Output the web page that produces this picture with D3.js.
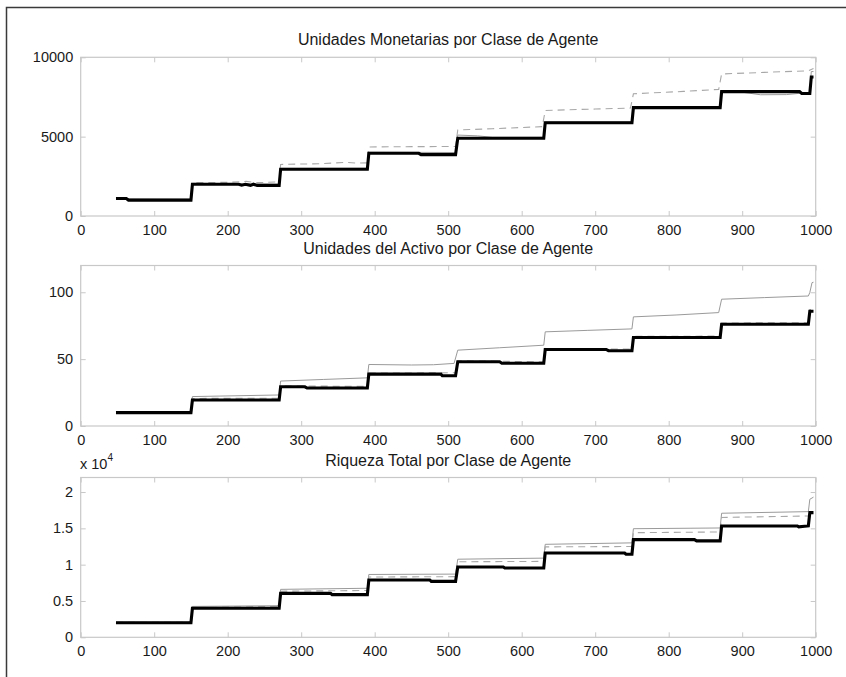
<!DOCTYPE html>
<html><head><meta charset="utf-8">
<script src="https://cdn.jsdelivr.net/npm/d3@7/dist/d3.min.js"></script>
<style>
html,body{margin:0;padding:0;background:#fff;}
svg{display:block;font-family:"Liberation Sans",Arial,Helvetica,sans-serif;}
</style></head>
<body>
<svg id="chart" width="846" height="677"></svg>
<script>
// ---------------- DATA ----------------
const titles = ["Unidades Monetarias por Clase de Agente","Unidades del Activo por Clase de Agente","Riqueza Total por Clase de Agente"];
const xTicks = [0,100,200,300,400,500,600,700,800,900,1000];
const yTicksMon = [0,5000,10000];
const yTicksAct = [0,50,100];
const yTicksWealth = [0,5000,10000,15000,20000];
const yTickLabelsWealth = ["0","0.5","1","1.5","2"];

// Panel 1: monetary units  [time, value]
const monBlack = [[48,1100],[62,1100],[65,1000],[150,1000],[152,2000],[215,2000],[219,1940],[224,2000],[231,1930],[235,2000],[240,1930],[270,1930],[272,2950],[390,2950],[392,3950],[460,3950],[463,3870],[510,3870],[513,4900],[630,4900],[632,5880],[750,5880],[752,6830],[870,6830],[872,7840],[978,7840],[981,7720],[992,7720],[994,8760],[997,8760]];
const monThin = [[48,1080],[150,1060],[152,2060],[270,2000],[272,3000],[390,3010],[392,4020],[510,4000],[513,5100],[540,5050],[560,4960],[630,4960],[632,5930],[750,5930],[752,6890],[870,6890],[872,7880],[900,7800],[925,7640],[960,7650],[985,7760],[992,7760],[994,9100],[997,9100]];
const monDashed = [[48,1100],[65,1030],[150,1030],[152,2100],[200,2120],[225,2180],[240,2100],[270,2150],[272,3250],[330,3300],[360,3380],[375,3330],[390,3350],[392,4350],[450,4370],[510,4380],[513,5420],[560,5500],[628,5630],[632,6650],[700,6740],[748,6800],[752,7700],[820,7850],[868,7980],[872,8950],[930,9050],[990,9150],[997,9300]];

// Panel 2: asset units
const actBlack = [[48,10],[150,10],[152,19.4],[270,19.4],[272,29.3],[305,29.3],[308,28.4],[390,28.4],[392,38.8],[490,38.8],[492,37.6],[510,37.6],[513,48],[570,48],[573,46.9],[630,46.9],[632,57.2],[715,57.2],[718,56.3],[750,56.3],[752,66.2],[870,66.2],[872,76.1],[990,76.1],[992,85.8],[997,85.8]];
const actThin = [[48,10.6],[150,10.8],[152,22],[270,23.2],[272,33.6],[330,34.8],[390,36],[392,46],[450,45.6],[480,45.8],[508,46.8],[513,56.7],[570,58.5],[630,60.4],[632,70.4],[690,71.5],[750,72.6],[752,81.6],[810,83],[868,84.8],[872,94.8],[930,96],[990,97.2],[992,99.8],[995,107.2],[997,107.5]];
const actDashed = [[48,10.3],[150,10.3],[152,20.6],[270,20.8],[272,30],[390,29.6],[392,39.5],[510,39.8],[513,48.8],[630,48],[632,58],[750,57.5],[752,67],[870,67.2],[872,77],[990,77.2],[992,87],[997,87]];

// Panel 3: total wealth
const wBlack = [[48,2000],[150,2000],[152,4000],[270,4000],[272,6050],[340,6050],[342,5870],[390,5870],[392,7890],[475,7890],[477,7700],[510,7700],[513,9680],[575,9680],[577,9550],[630,9550],[632,11610],[740,11610],[742,11430],[750,11430],[752,13450],[835,13450],[838,13270],[870,13270],[872,15330],[975,15330],[977,15200],[985,15280],[990,15330],[992,17160],[997,17160]];
const wDashed = [[48,2050],[150,2050],[152,4150],[270,4250],[272,6350],[340,6400],[390,6450],[392,8300],[510,8350],[513,10400],[630,10450],[632,12450],[750,12500],[752,14400],[870,14500],[872,16500],[990,16700],[992,17200],[997,17300]];
const wThin = [[48,2080],[150,2080],[152,4250],[270,4350],[272,6600],[390,6750],[392,8650],[510,8700],[513,10750],[630,10900],[632,12800],[750,13000],[752,14950],[870,15050],[872,17080],[990,17300],[992,19000],[997,19300]];

// ---------------- DRAW ----------------
const svg = d3.select("#chart");
const X0 = 80.7, X1 = 815.7;
const FONT = "'Liberation Sans',Arial,Helvetica,sans-serif";

// outer frame
svg.append("path").attr("d","M6.5,677V7.5H846").attr("fill","none").attr("stroke","#3a3a3a").attr("stroke-width",1.5);

const panels = [
  {title:titles[0], y0:216, y1:57.3, ymax:10000, yticks:yTicksMon, ylabels:yTicksMon.map(String), series:[monThin,monDashed,monBlack], titleY:44.5},
  {title:titles[1], y0:426, y1:265.5, ymax:120, yticks:yTicksAct, ylabels:yTicksAct.map(String), series:[actThin,actDashed,actBlack], titleY:254},
  {title:titles[2], y0:637.3, y1:477.5, ymax:22000, yticks:yTicksWealth, ylabels:yTickLabelsWealth, series:[wThin,wDashed,wBlack], titleY:466, exp:true}
];
const styles = [
  {stroke:"#9a9a9a", width:1, dash:null},
  {stroke:"#a8a8a8", width:1.1, dash:"7,5"},
  {stroke:"#000", width:3.1, dash:null}
];

panels.forEach(p => {
  const x = d3.scaleLinear().domain([0,1000]).range([X0,X1]);
  const y = d3.scaleLinear().domain([0,p.ymax]).range([p.y0,p.y1]);
  const g = svg.append("g");
  const axisColor = "#c8c8c8";
  // box
  g.append("rect").attr("x",X0).attr("y",p.y1).attr("width",X1-X0).attr("height",p.y0-p.y1)
    .attr("fill","#fff").attr("stroke",axisColor).attr("stroke-width",1.2);
  // axes with inward ticks
  const xb = g.append("g").attr("transform",`translate(0,${p.y0})`)
    .call(d3.axisBottom(x).tickValues(xTicks).tickSizeInner(-5).tickSizeOuter(0).tickPadding(8.5).tickFormat(d3.format("d")));
  const xt = g.append("g").attr("transform",`translate(0,${p.y1})`)
    .call(d3.axisTop(x).tickValues(xTicks).tickSizeInner(-5).tickSizeOuter(0).tickFormat(""));
  const yl = g.append("g").attr("transform",`translate(${X0},0)`)
    .call(d3.axisLeft(y).tickValues(p.yticks).tickSizeInner(-5).tickSizeOuter(0).tickPadding(7.5).tickFormat((d,i)=>p.ylabels[i]));
  const yr = g.append("g").attr("transform",`translate(${X1},0)`)
    .call(d3.axisRight(y).tickValues(p.yticks).tickSizeInner(-5).tickSizeOuter(0).tickFormat(""));
  [xb,xt,yl,yr].forEach(a => {
    a.select(".domain").remove();
    a.selectAll(".tick line").attr("stroke",axisColor).attr("stroke-width",1);
    a.selectAll("text").attr("font-size","14.5px").attr("fill","#1a1a1a").attr("font-family",FONT);
  });
  // series
  const line = d3.line().x(d=>x(d[0])).y(d=>y(d[1]));
  p.series.forEach((s,i) => {
    const st = styles[i];
    g.append("path").datum(s).attr("d",line).attr("fill","none")
      .attr("stroke",st.stroke).attr("stroke-width",st.width)
      .attr("stroke-dasharray",st.dash).attr("stroke-linejoin","miter");
  });
  // title
  svg.append("text").attr("x",(X0+X1)/2).attr("y",p.titleY).attr("text-anchor","middle")
    .attr("font-size","16px").attr("fill","#1a1a1a").attr("font-family",FONT).text(p.title);
  if (p.exp) {
    const t = svg.append("text").attr("x",80).attr("y",469).attr("font-size","14.5px").attr("fill","#1a1a1a").attr("font-family",FONT);
    t.append("tspan").text("x 10");
    t.append("tspan").attr("dy",-8).attr("font-size","10px").text("4");
  }
});
</script>
</body></html>
